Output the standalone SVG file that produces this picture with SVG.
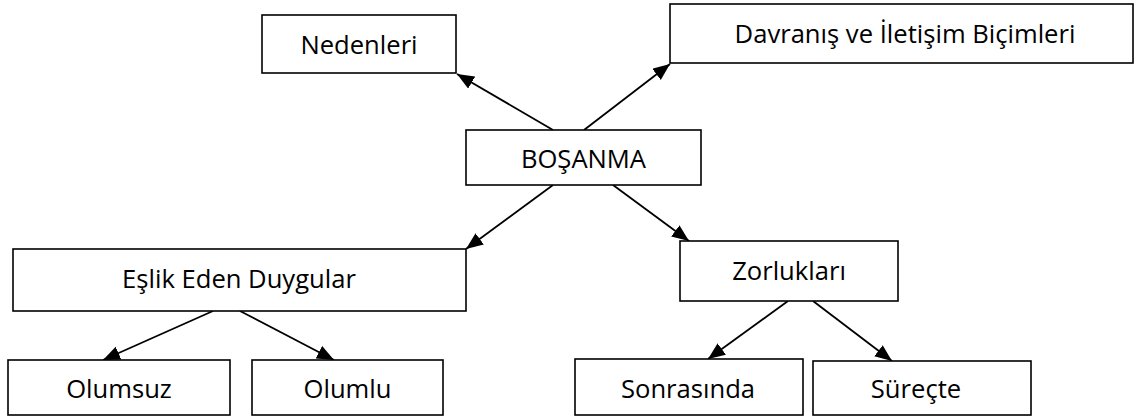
<svg xmlns="http://www.w3.org/2000/svg" width="1135" height="416" viewBox="0 0 1135 416">
<style>
.box{fill:#fff;stroke:#000;stroke-width:1.6}
.lbl{font-family:"Open Sans","Liberation Sans",sans-serif;font-size:25.6px;fill:#000;text-anchor:middle}
.edge{stroke:#000;stroke-width:1.8;fill:none;marker-end:url(#ah)}
</style>
<defs>
<marker id="ah" markerUnits="userSpaceOnUse" markerWidth="19" markerHeight="15" refX="17" refY="7" orient="auto">
<path d="M0,0 L17,7 L0,14 z" fill="#000"/>
</marker>
</defs>
<rect width="1135" height="416" fill="#fff"/>
<g id="connectors">
<line class="edge" x1="553" y1="130" x2="457" y2="74"/>
<line class="edge" x1="584" y1="130" x2="670" y2="64"/>
<line class="edge" x1="553" y1="185" x2="466" y2="249"/>
<line class="edge" x1="613" y1="185" x2="689" y2="241"/>
<line class="edge" x1="213" y1="311" x2="103" y2="360"/>
<line class="edge" x1="240" y1="311" x2="334" y2="360"/>
<line class="edge" x1="788" y1="301" x2="708" y2="359"/>
<line class="edge" x1="813" y1="301" x2="892" y2="361"/>
</g>
<g id="nedenleri"><rect class="box" x="262" y="15" width="194" height="58"/><text class="lbl" x="359" y="54">Nedenleri</text></g>
<g id="davranis"><rect class="box" x="670" y="4" width="463" height="59"/><text class="lbl" x="905" y="43">Davranış ve İletişim Biçimleri</text></g>
<g id="bosanma"><rect class="box" x="466" y="130" width="235" height="55"/><text class="lbl" x="583.5" y="168">BOŞANMA</text></g>
<g id="eslik"><rect class="box" x="13" y="249" width="453" height="62"/><text class="lbl" x="239" y="288">Eşlik Eden Duygular</text></g>
<g id="zorluklari"><rect class="box" x="680" y="241" width="218" height="60"/><text class="lbl" x="789" y="280">Zorlukları</text></g>
<g id="olumsuz"><rect class="box" x="8" y="360" width="222" height="55"/><text class="lbl" x="119" y="398">Olumsuz</text></g>
<g id="olumlu"><rect class="box" x="252" y="360" width="191" height="55"/><text class="lbl" x="347.5" y="398">Olumlu</text></g>
<g id="sonrasinda"><rect class="box" x="575" y="359" width="228" height="56"/><text class="lbl" x="688" y="398">Sonrasında</text></g>
<g id="surecte"><rect class="box" x="813" y="361" width="218" height="54"/><text class="lbl" x="916" y="398">Süreçte</text></g>
</svg>
